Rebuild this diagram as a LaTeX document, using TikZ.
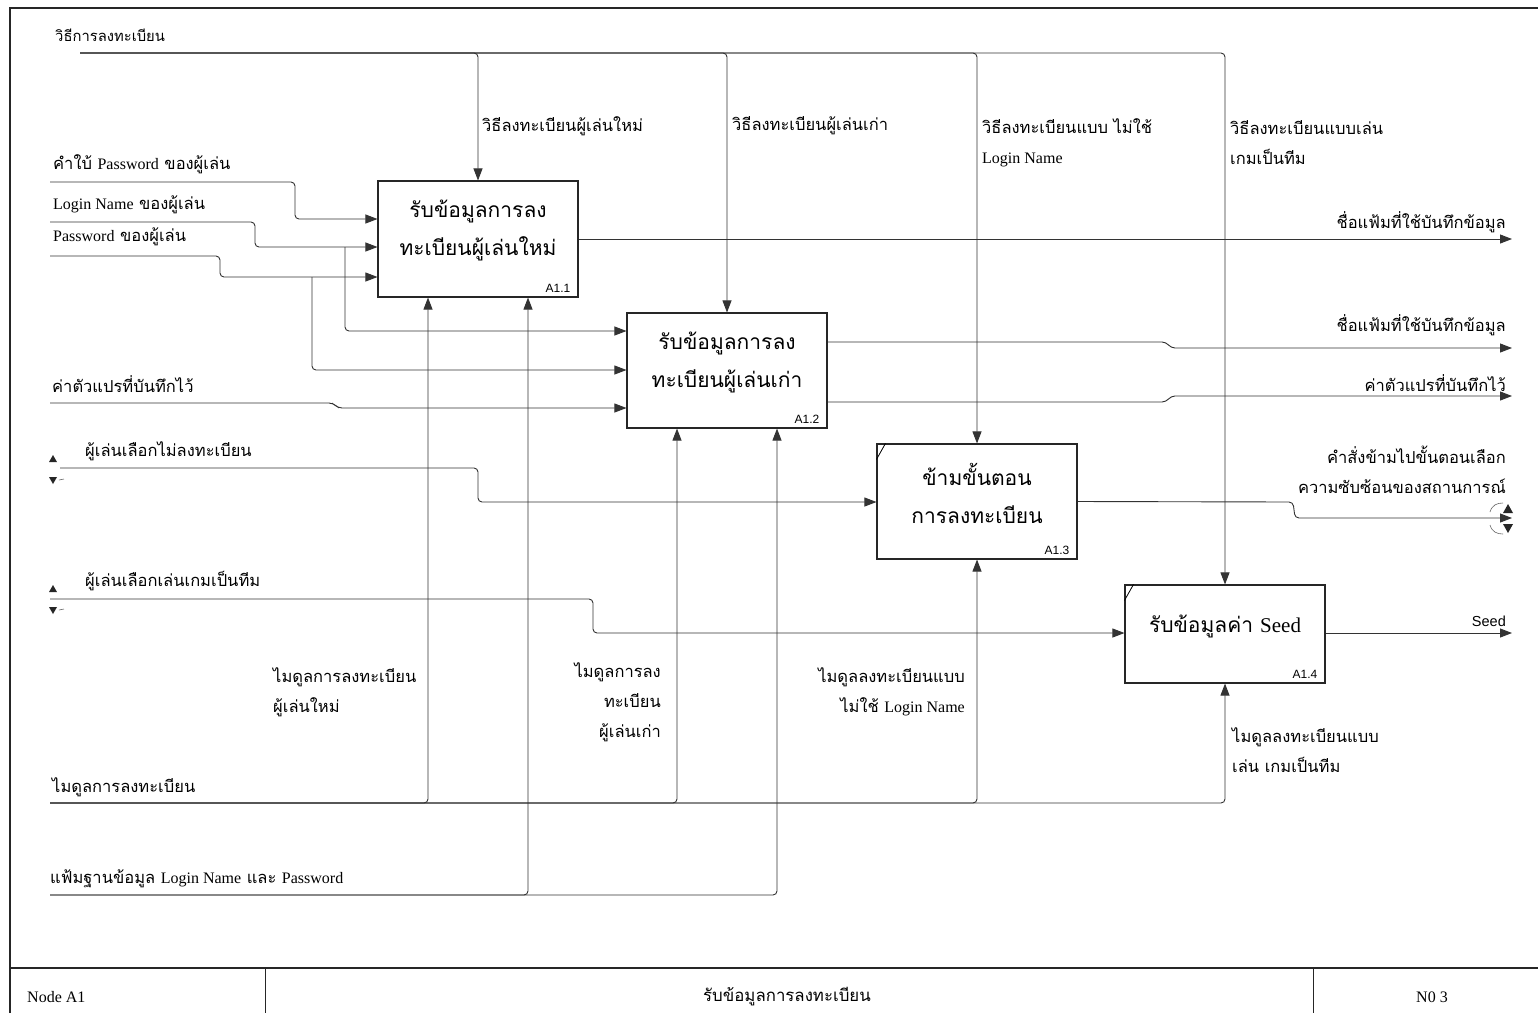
\documentclass[tikz,border=0pt]{standalone}
\usepackage{fontspec}
\setmainfont{Liberation Serif}
\newfontfamily\thai[Script=Thai]{Loma}
\newfontfamily\ensans{Liberation Sans}
\usetikzlibrary{arrows.meta}
\newcommand\eng[1]{{\rmfamily\fontsize{16}{30}\selectfont #1}}

\tikzset{
  flow/.style={draw=black!80, line width=0.9pt, rounded corners=4pt},
  arr/.style={flow, -{Triangle[length=12pt,width=9pt]}},
  proc/.style={draw=black!85, line width=1.1pt, minimum width=200pt, inner sep=0pt},
  title/.style={font=\thai\fontsize{21}{38}\selectfont, align=center, inner sep=0pt},
  lbl/.style={font=\thai\fontsize{16.5}{30}\selectfont, inner sep=0pt},
  boxid/.style={font=\ensans\fontsize{12}{13}\selectfont, inner sep=0pt, anchor=south east},
  foot/.style={font=\thai\fontsize{16.8}{18}\selectfont, inner sep=0pt},
  footen/.style={font=\rmfamily\fontsize{16}{18}\selectfont, inner sep=0pt},
}

\begin{document}
\begin{tikzpicture}[x=1pt, y=-1pt]
\useasboundingbox (0,0) rectangle (1538,1013);
\fill[white] (0,0) rectangle (1538,1013);

% page frame and footer
\draw[line width=1.2pt, black!85] (10,1013) -- (10,8) -- (1538,8);
\draw[line width=1.6pt, black!85] (10,968) -- (1538,968);
\draw[line width=1pt, black!85] (265,968) -- (265,1013) (1313,968) -- (1313,1013);
\node[footen, anchor=west] (fnode) at (27,997) {Node A1};
\node[foot] (ftitle) at (787,997) {รับข้อมูลการลงทะเบียน};
\node[footen] (fno) at (1432,997) {N0 3};

% activity boxes
\node[proc, minimum height=116pt] (a11) at (478,239) {};
\node[proc, minimum height=115pt] (a12) at (727,370.5) {};
\node[proc, minimum height=115pt] (a13) at (977,501.5) {};
\node[proc, minimum height=98pt]  (a14) at (1225,634) {};

\node[title] (t11) at (478,230) {รับข้อมูลการลง\\ทะเบียนผู้เล่นใหม่};
\node[title] (t12) at (727,362) {รับข้อมูลการลง\\ทะเบียนผู้เล่นเก่า};
\node[title] (t13) at (977,493) {ข้ามขั้นตอน\\การลงทะเบียน};
\node[title] (t14) at (1225,626) {รับข้อมูลค่า {\rmfamily Seed}};

\node[boxid] (n11) at ([xshift=-8pt,yshift=5pt]a11.south east) {A1.1};
\node[boxid] (n12) at ([xshift=-8pt,yshift=5pt]a12.south east) {A1.2};
\node[boxid] (n13) at ([xshift=-8pt,yshift=5pt]a13.south east) {A1.3};
\node[boxid] (n14) at ([xshift=-8pt,yshift=5pt]a14.south east) {A1.4};

% tunnel ticks at the top-left corners
\draw[line width=0.8pt] ([yshift=-16pt]a13.north west) -- ([xshift=9pt]a13.north west);
\draw[line width=0.8pt] ([yshift=-16pt]a14.north west) -- ([xshift=9pt]a14.north west);

% controls
\node[lbl, font=\thai\fontsize{14.8}{18}\selectfont, anchor=west] (lc0) at (55,35) {วิธีการลงทะเบียน};
\coordinate (c0) at (80,53);
\draw[arr] (c0) -- (a11.north |- c0) -- (a11.north);
\draw[arr] (c0) -- (a12.north |- c0) -- (a12.north);
\draw[arr] (c0) -- (a13.north |- c0) -- (a13.north);
\draw[arr] (c0) -- (a14.north |- c0) -- (a14.north);
\node[lbl, anchor=west] (lc1) at (482,126) {วิธีลงทะเบียนผู้เล่นใหม่};
\node[lbl, anchor=west] (lc2) at (732,126) {วิธีลงทะเบียนผู้เล่นเก่า};
\node[lbl, anchor=west, align=left] (lc3) at (982,143) {วิธีลงทะเบียนแบบ ไม่ใช้\\\eng{Login Name}};
\node[lbl, anchor=west, align=left] (lc4) at (1230,143) {วิธีลงทะเบียนแบบเล่น\\เกมเป็นทีม};

% inputs
\node[lbl, anchor=west] (li1) at (53,164) {คำใบ้ \eng{Password} ของผู้เล่น};
\node[lbl, anchor=west] (li2) at (53,205) {\eng{Login Name} ของผู้เล่น};
\node[lbl, anchor=west] (li3) at (53,237) {\eng{Password} ของผู้เล่น};
\node[lbl, anchor=west] (li4) at (52,384) {ค่าตัวแปรที่บันทึกไว้};
\node[lbl, anchor=west] (li5) at (85,451) {ผู้เล่นเลือกไม่ลงทะเบียน};
\node[lbl, anchor=west] (li6) at (85,581) {ผู้เล่นเลือกเล่นเกมเป็นทีม};

\coordinate (iHint) at (50,182);
\coordinate (iLogin) at (50,222);
\coordinate (iPass) at (50,256);
\coordinate (iVar) at (50,403);
\coordinate (iSkip) at (60,468);
\coordinate (iTeam) at (50,599);
\coordinate (jLogin) at (345,247);
\coordinate (jPass) at (312,277);

\draw[arr] (iHint) -- (295,182) -- (295,219) -- (a11.west |- 0,219);
\draw[arr] (iLogin) -- (255,222) -- (255,247) -- (a11.west |- 0,247);
\draw[arr] (jLogin) -- (345,331) -- (a12.west |- 0,331);
\draw[arr] (iPass) -- (220,256) -- (220,277) -- (a11.west |- 0,277);
\draw[arr] (jPass) -- (312,370) -- (a12.west |- 0,370);
\draw[arr] (iVar) -- (333,403) -- (338,408) -- (a12.west |- 0,408);
\draw[arr] (iSkip) -- (478,468) -- (478,502) -- (a13.west |- 0,502);
\draw[arr] (iTeam) -- (593,599) -- (593,633) -- (a14.west |- 0,633);

% tunnel marks on the left
\foreach \ty in {458,588} {
  \fill[black!85] (49,\ty+4) -- (57,\ty+4) -- (53,\ty-3) -- cycle;
  \fill[black!85] (49,\ty+19) -- (57,\ty+19) -- (53,\ty+26) -- cycle;
  \draw[black!60, line width=0.6pt] (59,\ty+22) -- (64,\ty+21);
}

% outputs
\coordinate (o1) at (1512,239);
\coordinate (o2) at (1512,348);
\coordinate (o3) at (1512,396);
\coordinate (o4) at (1512,518);
\coordinate (o5) at (1512,633);
\draw[arr] (a11.east) -- (o1);
\draw[arr] (a12.east |- 0,342) -- (1166,342) -- (1171,348) -- (o2);
\draw[arr] (a12.east |- 0,402) -- (1166,402) -- (1171,396) -- (o3);
\draw[arr] (a13.east) -- (1293,502) -- (1295,518) -- (o4);
\draw[arr] (a14.east |- 0,633) -- (o5);

\node[lbl, anchor=east] (lo1) at (1506,222) {ชื่อแฟ้มที่ใช้บันทึกข้อมูล};
\node[lbl, anchor=east] (lo2) at (1506,325) {ชื่อแฟ้มที่ใช้บันทึกข้อมูล};
\node[lbl, anchor=east] (lo3) at (1506,383) {ค่าตัวแปรที่บันทึกไว้};
\node[lbl, anchor=east, align=right] (lo4) at (1506,470) {คำสั่งข้ามไปขั้นตอนเลือก\\ความซับซ้อนของสถานการณ์};
\node[lbl, anchor=east, font=\ensans\fontsize{14.5}{16}\selectfont] (lo5) at (1506,621) {Seed};

% tunnel marks on the right
\fill[black!85] (1503,513) -- (1513,513) -- (1508,504) -- cycle;
\fill[black!85] (1503,524) -- (1513,524) -- (1508,533) -- cycle;
\draw[black!60, line width=0.6pt] (1490,512) .. controls (1492,505) and (1497,503) .. (1503,503);
\draw[black!60, line width=0.6pt] (1490,525) .. controls (1492,532) and (1497,534) .. (1503,534);

% mechanisms
\coordinate (m1) at (50,803);
\coordinate (m2) at (50,895);
\draw[arr] (m1) -- (428,803) -- ([xshift=-50pt]a11.south);
\draw[arr] (m1) -- (677,803) -- ([xshift=-50pt]a12.south);
\draw[arr] (m1) -- (977,803) -- (a13.south);
\draw[arr] (m1) -- (1225,803) -- (a14.south);
\draw[arr] (m2) -- (528,895) -- ([xshift=50pt]a11.south);
\draw[arr] (m2) -- (777,895) -- ([xshift=50pt]a12.south);

\node[lbl, anchor=west, align=left] (lm1) at (273,692) {ไมดูลการลงทะเบียน\\ผู้เล่นใหม่};
\node[lbl, anchor=east, align=right] (lm2) at (661,702) {ไมดูลการลง\\ทะเบียน\\ผู้เล่นเก่า};
\node[lbl, anchor=east, align=right] (lm3) at (965,692) {ไมดูลลงทะเบียนแบบ\\ไม่ใช้ \eng{Login Name}};
\node[lbl, anchor=west, align=left] (lm4) at (1232,750) {ไมดูลลงทะเบียนแบบ\\เล่น เกมเป็นทีม};
\node[lbl, anchor=west] (lm5) at (52,787) {ไมดูลการลงทะเบียน};
\node[lbl, anchor=west] (lm6) at (50,879) {แฟ้มฐานข้อมูล \eng{Login Name} และ \eng{Password}};

\end{tikzpicture}
\end{document}
